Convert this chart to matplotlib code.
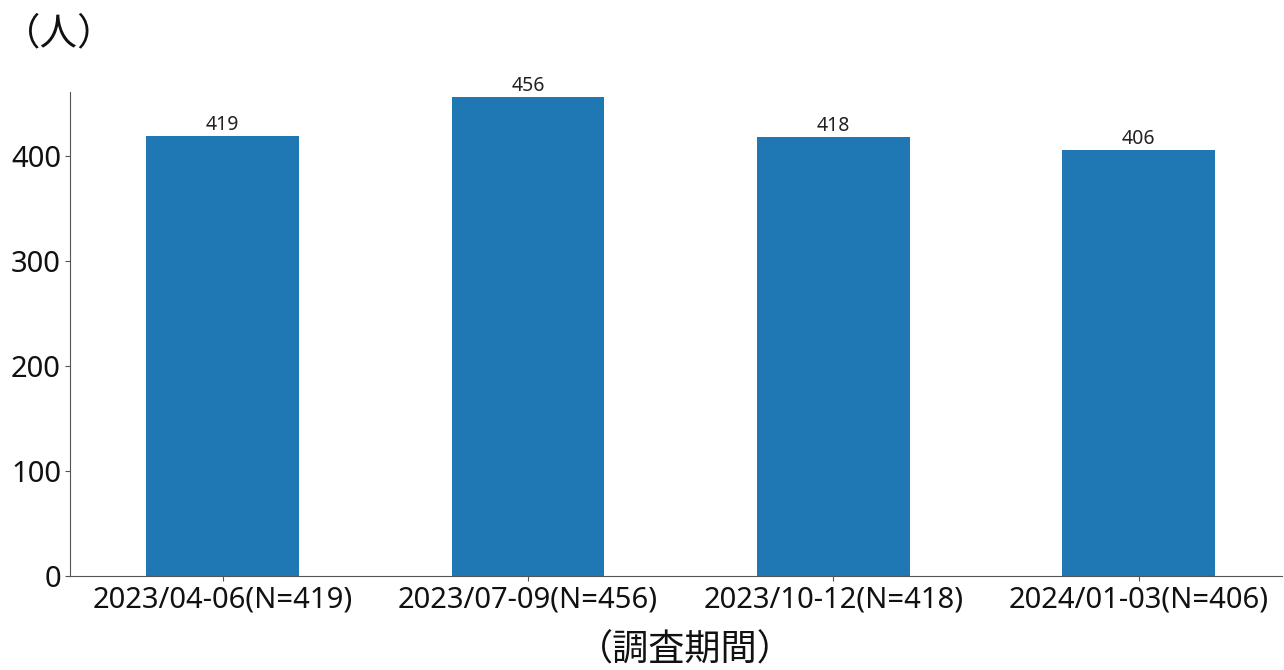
import matplotlib
matplotlib.use("Agg")
import matplotlib.pyplot as plt

plt.rcParams['font.family'] = ['Noto Sans', 'Noto Sans CJK JP', 'DejaVu Sans']

categories = ["2023/04-06(N=419)", "2023/07-09(N=456)", "2023/10-12(N=418)", "2024/01-03(N=406)"]
values = [419, 456, 418, 406]
yticks = [0, 100, 200, 300, 400]

fig = plt.figure(figsize=(12.84, 6.70), dpi=100)
ax = fig.add_axes([0.0545, 0.1403, 0.944, 0.7224])

x = list(range(len(categories)))
bars = ax.bar(x, values, width=0.5, color='#1f77b4')
for xi, v in zip(x, values):
    ax.text(xi, v + 1, str(v), ha='center', va='bottom', fontsize=14, color='#222222')

ax.set_xlim(-0.5, 3.47)
ax.set_ylim(0, 461)
ax.set_yticks(yticks)
ax.set_xticks(x)
ax.set_xticklabels(categories)
ax.tick_params(axis='both', labelsize=21, colors='#555555', labelcolor='#111111', pad=3)
for s in ['top', 'right']:
    ax.spines[s].set_visible(False)
for s in ['left', 'bottom']:
    ax.spines[s].set_color('#555555')

ax.set_xlabel("（調査期間）", fontsize=26, color='#111111',
              family=['Noto Sans CJK JP', 'DejaVu Sans'])
ax.xaxis.set_label_coords(0.508, -0.153)
ax.xaxis.label.set_va('center')
fig.text(0.002, 0.949, "（人）", fontsize=27, ha='left', va='center', color='#111111',
         family=['Noto Sans CJK JP', 'DejaVu Sans'])

fig.savefig("out.png", dpi=100)
